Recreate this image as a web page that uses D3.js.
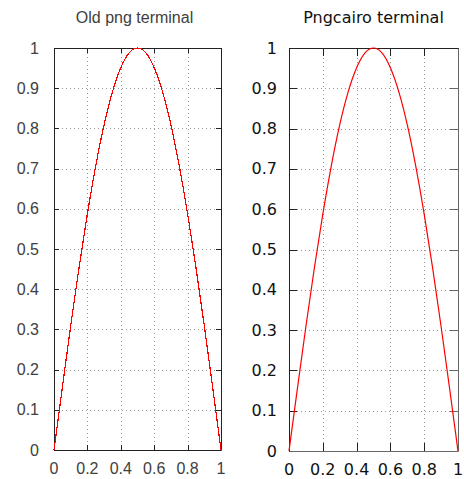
<!DOCTYPE html>
<html><head><meta charset="utf-8">
<script src="https://cdn.jsdelivr.net/npm/d3@7"></script>
<style>body{margin:0;background:#fff}svg{display:block}</style>
</head><body>
<svg id="c" width="464" height="479"></svg>
<script>
const titles = ["Old png terminal", "Pngcairo terminal"];
const xValues = [0,0.05,0.1,0.15,0.2,0.25,0.3,0.35,0.4,0.45,0.5,0.55,0.6,0.65,0.7,0.75,0.8,0.85,0.9,0.95,1];
const yValues = [0,0.156,0.309,0.454,0.588,0.707,0.809,0.891,0.951,0.988,1,0.988,0.951,0.891,0.809,0.707,0.588,0.454,0.309,0.156,0];
const xTicks = [0,0.2,0.4,0.6,0.8,1];
const yTicks = [0,0.1,0.2,0.3,0.4,0.5,0.6,0.7,0.8,0.9,1];

const panels = [
  {title: titles[0], x0:54, x1:221, y0:450, y1:48, font:"'Liberation Sans', Arial, sans-serif", color:"#404040", tick:5, titleX:134.5, frame:"#222", frame2:"#222", crisp:true, ylabX:39, xlabY:474},
  {title: titles[1], x0:289, x1:458, y0:451, y1:48, font:"'DejaVu Sans', sans-serif", color:"#111", tick:8, titleX:373.5, frame:"#222", frame2:"#666", crisp:false, ylabX:277, xlabY:475}
];

const svg = d3.select("#c");
const data = xValues.map((x,i)=>({x, y:yValues[i]}));

panels.forEach(p => {
  const g = svg.append("g");
  const x = d3.scaleLinear().domain([0,1]).range([p.x0,p.x1]);
  const y = d3.scaleLinear().domain([0,1]).range([p.y0,p.y1]);
  // grid
  g.selectAll(".gx").data(xTicks.slice(1,-1)).join("line")
    .attr("x1",d=>Math.round(x(d))+0.5).attr("x2",d=>Math.round(x(d))+0.5)
    .attr("y1",p.y0).attr("y2",p.y1)
    .attr("stroke","#999").attr("stroke-dasharray","1,3");
  g.selectAll(".gy").data(yTicks.slice(1,-1)).join("line")
    .attr("y1",d=>Math.round(y(d))+0.5).attr("y2",d=>Math.round(y(d))+0.5)
    .attr("x1",p.x0).attr("x2",p.x1)
    .attr("stroke","#999").attr("stroke-dasharray","1,3");
  // ticks (mirrored, inward)
  yTicks.forEach(t=>{
    const yy = Math.round(y(t))+0.5;
    g.append("line").attr("x1",p.x0).attr("x2",p.x0+p.tick).attr("y1",yy).attr("y2",yy).attr("stroke",p.frame);
    g.append("line").attr("x1",p.x1).attr("x2",p.x1-p.tick).attr("y1",yy).attr("y2",yy).attr("stroke",p.frame2);
  });
  xTicks.forEach(t=>{
    const xx = Math.round(x(t))+0.5;
    g.append("line").attr("x1",xx).attr("x2",xx).attr("y1",p.y0).attr("y2",p.y0-p.tick).attr("stroke",p.frame);
    g.append("line").attr("x1",xx).attr("x2",xx).attr("y1",p.y1).attr("y2",p.y1+p.tick).attr("stroke",p.frame);
  });
  // frame
  const L = p.x0+0.5, R = p.x1+0.5, T = p.y1+0.5, B = p.y0+0.5;
  g.append("path").attr("d",`M${R},${T}H${L}V${B}`).attr("fill","none").attr("stroke",p.frame);
  g.append("path").attr("d",`M${L},${B}H${R}V${T}`).attr("fill","none").attr("stroke",p.frame2);
  // labels
  g.selectAll(".yl").data(yTicks).join("text")
    .attr("x",p.ylabX).attr("y",d=>y(d)+5.5).attr("text-anchor","end")
    .attr("font-family",p.font).attr("font-size",16).attr("fill",p.color).text(d=>d3.format("")(d));
  g.selectAll(".xl").data(xTicks).join("text")
    .attr("x",d=>x(d)).attr("y",p.xlabY).attr("text-anchor","middle")
    .attr("font-family",p.font).attr("font-size",16).attr("fill",p.color).text(d=>d3.format("")(d));
  g.append("text").attr("x",p.titleX).attr("y",23).attr("text-anchor","middle")
    .attr("font-family",p.font).attr("font-size",16).attr("fill",p.color).text(p.title);
  // curve
  g.append("path").datum(data)
    .attr("d", d3.line().x(d=>x(d.x)).y(d=>y(d.y)).curve(d3.curveNatural))
    .attr("fill","none").attr("stroke","#ff0000").attr("stroke-width",1.2)
    .attr("shape-rendering", p.crisp ? "crispEdges" : "auto");
});
</script>
</body></html>
